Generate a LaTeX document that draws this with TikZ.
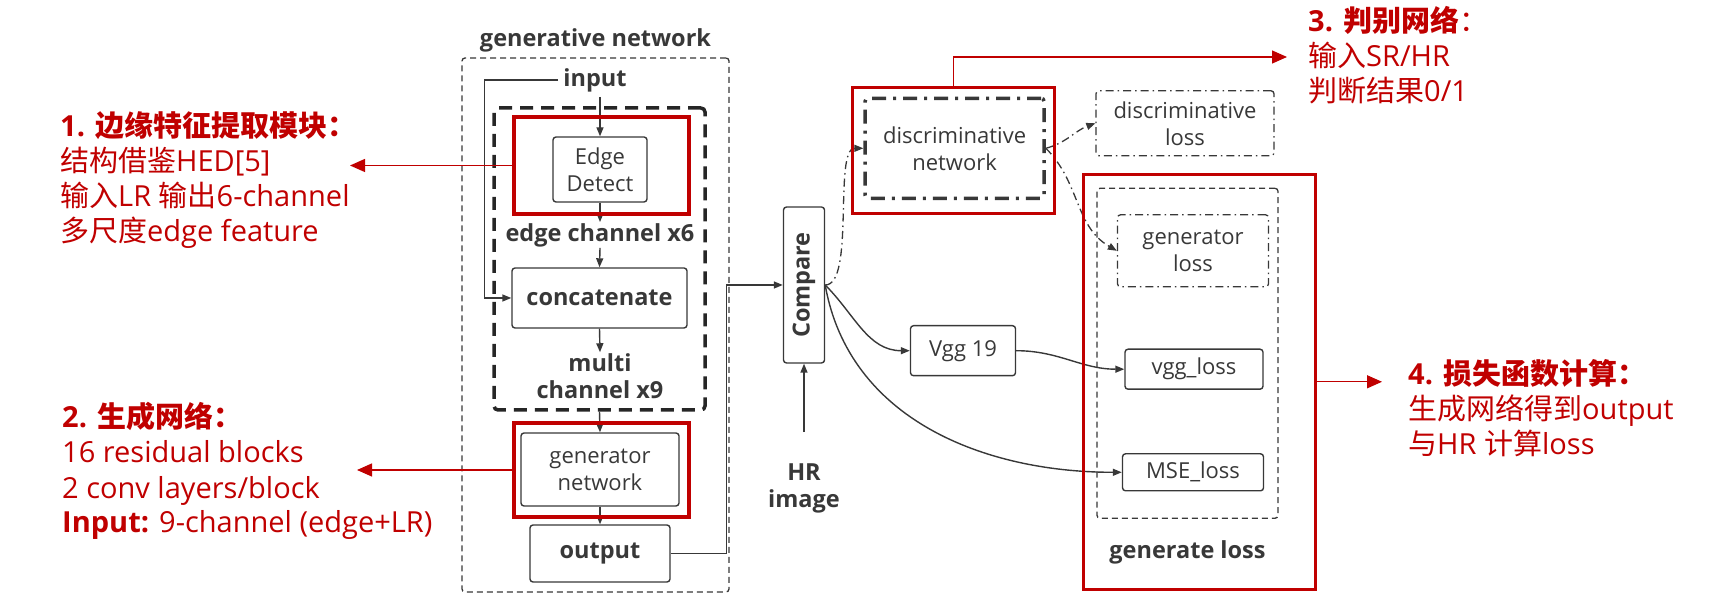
\documentclass[tikz,border=0pt]{standalone}
\usepackage{fontspec}
\setmainfont{Open Sans}
\newfontfamily\cjk{Noto Sans CJK SC}
\usepackage{xcolor}
\usetikzlibrary{arrows.meta,positioning}
\definecolor{linegray}{HTML}{383838}
\definecolor{hlred}{HTML}{C00000}
\newcommand{\zh}[1]{{\cjk #1}}
\newcommand{\lblfont}{\fontsize{22}{27}\selectfont}
\newcommand{\boldlbl}{\fontsize{23.5}{27}\selectfont\bfseries}
\newcommand{\notefont}{\fontsize{29}{35}\selectfont}

\begin{document}
\begin{tikzpicture}[
  x=1pt, y=1pt,
  box/.style={draw=linegray, line width=1.4pt, rounded corners=3pt, align=center, text=linegray, font=\lblfont, inner sep=2pt},
  bbox/.style={box, font=\boldlbl},
  lbl/.style={align=center, text=linegray, font=\boldlbl, inner sep=1pt},
  thindash/.style={draw=linegray, line width=1.3pt, rounded corners=3pt, dash pattern=on 6pt off 4pt},
  thickdash/.style={draw=black!85, line width=3.5pt, rounded corners=4pt, dash pattern=on 13pt off 8pt},
  thickdashdot/.style={line width=3.5pt, dash pattern=on 14pt off 7pt on 3pt off 7pt},
  thindashdot/.style={line width=1.3pt, dash pattern=on 8pt off 4pt on 1.5pt off 4pt},
  redbox/.style={draw=hlred, line width=3.2pt},
  arr/.style={-{Triangle[length=9pt, width=7pt]}, draw=linegray, line width=1.4pt},
  redarr/.style={-{Triangle[length=15pt, width=13pt]}, draw=hlred, line width=1.3pt},
  note/.style={text=hlred, align=left, anchor=base west, inner sep=0pt, font=\notefont}
]
\useasboundingbox (0,0) rectangle (1726,613);

\node[thindash, minimum width=267pt, minimum height=534pt] (gen) at (595.5,288) {};
\node[lbl, above=4pt of gen] (gentitle) {generative network};
\node[lbl, inner sep=5pt] (inp) at (595,533) {input};
\node[thickdash, minimum width=211pt, minimum height=302pt] (edgemod) at (599.5,354) {};
\node[box, minimum width=94pt, minimum height=65pt] (edge) at (600,443.5) {Edge\\Detect};
\node[lbl] (ec6) at (600,378) {edge channel x6};
\node[bbox, minimum width=175pt, minimum height=60pt] (cat) at (599.5,315) {concatenate};
\node[lbl] (multi) at (600,237) {multi\\channel x9};
\node[box, minimum width=158pt, minimum height=73pt] (gnet) at (600,143.5) {generator\\network};
\node[bbox, minimum width=140pt, minimum height=57pt] (out) at (600,59.5) {output};

\node[bbox, minimum width=41pt, minimum height=156pt] (cmp) at (804,328) {\rotatebox{90}{Compare}};
\node[lbl] (hr) at (804,125) {HR\\image};

\node[box, thickdashdot, minimum width=179pt, minimum height=100pt] (dnet) at (954.6,464.7) {discriminative\\network};
\node[box, thindashdot, minimum width=178pt, minimum height=65pt] (dloss) at (1185,489.7) {discriminative\\loss};
\node[thindash, minimum width=181pt, minimum height=330pt] (gdash) at (1187.5,259.7) {};
\node[lbl, below=20pt of gdash] (gltitle) {generate loss};
\node[box, thindashdot, minimum width=151pt, minimum height=72pt] (gloss) at (1193,362.2) {generator\\loss};
\node[box, minimum width=105pt, minimum height=50pt] (vgg) at (963,262.3) {Vgg 19};
\node[box, minimum width=138pt, minimum height=40pt] (vloss) at (1194,243.8) {vgg\_loss};
\node[box, minimum width=141pt, minimum height=37pt] (mse) at (1193,140.7) {MSE\_loss};

\draw[arr] (edge.north |- inp.south) -- (edge.north);
\draw[arr] (inp.west) -- ++(-74,0) |- (cat.west);
\draw[arr] (edge.south) -- (ec6.north);
\draw[arr] (ec6.south) -- (cat.north);
\draw[arr] (cat.south) -- (multi.north);
\draw[arr] (edgemod.south) -- (gnet.north);
\draw[arr] (gnet.south) -- (out.north);
\draw[arr] (out.east) -- ++(56,0) |- (cmp.west);
\draw[arr] ([yshift=30pt]hr.north) -- (cmp.south);
\draw[arr, thindashdot] (cmp.east) .. controls +(30,0) and +(-30,0) .. (dnet.west);
\draw[arr, thindashdot] (dnet.east) to[out=15, in=200] (dloss.west);
\draw[arr, thindashdot] (dnet.east) to[out=-45, in=150] (gloss.west);
\draw[arr] (cmp.east) to[out=-45, in=180] (vgg.west);
\draw[arr] (cmp.east) to[out=-80, in=180] (mse.west);
\draw[arr] (vgg.east) to[out=0, in=180] (vloss.west);

\node[redbox, minimum width=175pt, minimum height=97pt] (rb1) at (601.5,447.5) {};
\node[redbox, minimum width=175pt, minimum height=94pt] (rb2) at (601.5,143) {};
\node[redbox, minimum width=202pt, minimum height=126pt] (rb3) at (953.4,462.1) {};
\node[redbox, minimum width=232pt, minimum height=415pt] (rb4) at (1199.7,231.2) {};

\node[note] (n1) at (60,371) {{\bfseries 1. \zh{边缘特征提取模块：}}\\\zh{结构借鉴}HED[5]\\\zh{输入}LR \zh{输出}6-channel\\\zh{多尺度}edge feature};
\node[note] (n2) at (62,80) {{\bfseries 2. \zh{生成网络：}}\\16 residual blocks\\2 conv layers/block\\{\bfseries Input:} 9-channel (edge+LR)};
\node[note] (n3) at (1308,511) {{\bfseries 3. \zh{判别网络}}\zh{：}\\\zh{输入}SR/HR\\\zh{判断结果}0/1};
\node[note] (n4) at (1408,158) {{\bfseries 4. \zh{损失函数计算：}}\\\zh{生成网络得到}output\\\zh{与}HR \zh{计算}loss};

\coordinate (t1) at (350,447.5);
\coordinate (t2) at (357,143);
\coordinate (t3) at (1287,556);
\coordinate (t4) at (1382,231.2);
\draw[redarr] (rb1.west) -- (t1);
\draw[redarr] (rb2.west) -- (t2);
\draw[redarr] (rb3.north) |- (t3);
\draw[redarr] (rb4.east) -- (t4);
\end{tikzpicture}
\end{document}
